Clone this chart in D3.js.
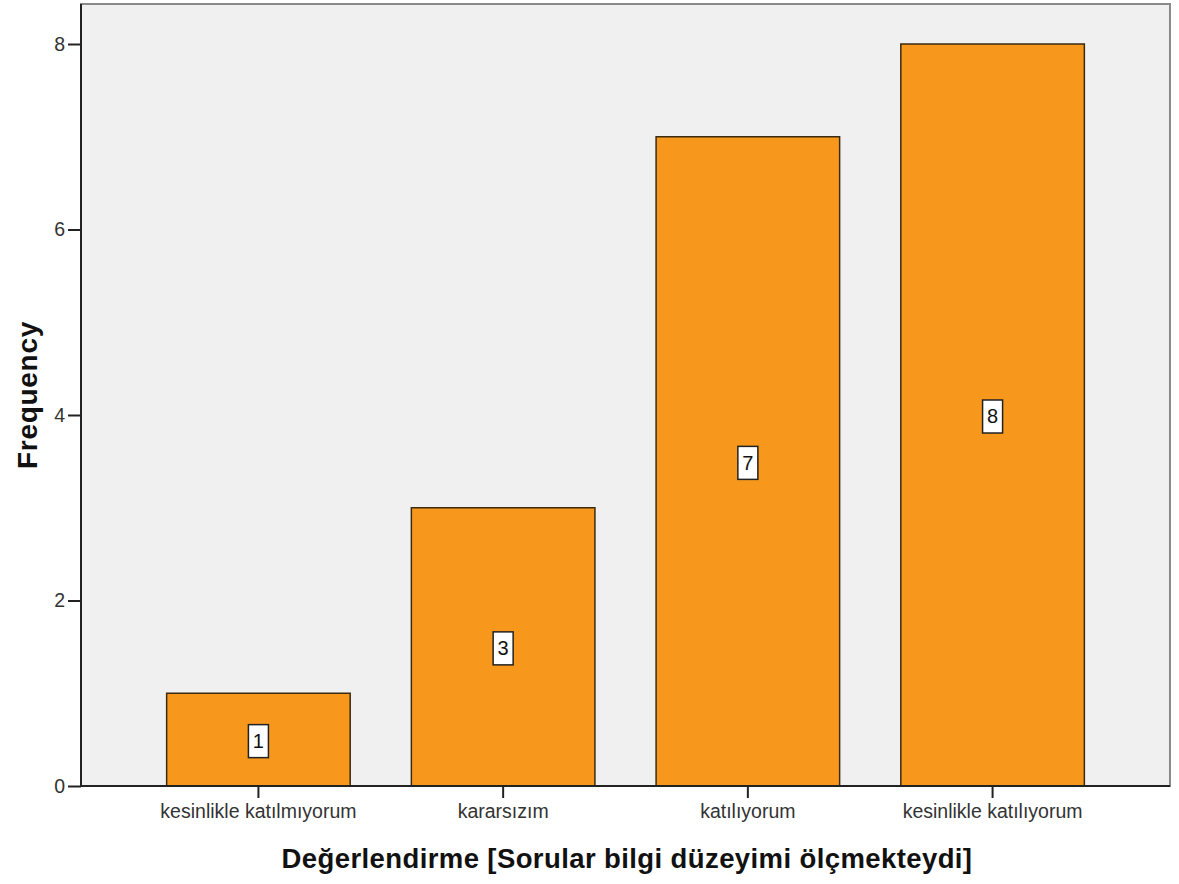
<!DOCTYPE html>
<html><head><meta charset="utf-8">
<script src="https://cdn.jsdelivr.net/npm/d3@7"></script>
<style>body{margin:0;background:#fff}svg{display:block}</style>
</head><body>
<script>
const categories = ["kesinlikle katılmıyorum","kararsızım","katılıyorum","kesinlikle katılıyorum"];
const frequencies = [1,3,7,8];
const yTicks = [0,2,4,6,8];
const xTitle = "Değerlendirme [Sorular bilgi düzeyimi ölçmekteydi]";
const yTitle = "Frequency";

const W=1179,H=884;
const L=81,T=4,R=1170,B=786;
const svg=d3.select("body").append("svg").attr("width",W).attr("height",H);
const font="Arial, 'Liberation Sans', sans-serif";

svg.append("rect").attr("x",L).attr("y",T).attr("width",R-L).attr("height",B-T)
  .attr("fill","#f0f0f0").attr("stroke","#8a8a8a").attr("stroke-width",2);

const x=d3.scaleBand().domain(categories).range([L,R]).paddingInner(0.25).paddingOuter(0.35);
const y=d3.scaleLinear().domain([0,8]).range([B,44]);

svg.selectAll("rect.bar").data(frequencies).enter().append("rect").attr("class","bar")
  .attr("x",(d,i)=>x(categories[i])).attr("width",x.bandwidth())
  .attr("y",d=>y(d)).attr("height",d=>y(0)-y(d))
  .attr("fill","#f7981d").attr("stroke","#3a2a10").attr("stroke-width",1.5);

// value labels
const lab=svg.selectAll("g.lab").data(frequencies).enter().append("g").attr("class","lab")
  .attr("transform",(d,i)=>`translate(${x(categories[i])+x.bandwidth()/2},${y(d/2)+1})`);
lab.append("rect").attr("x",-10).attr("y",-16).attr("width",20).attr("height",33)
  .attr("fill","#fff").attr("stroke","#222").attr("stroke-width",1.5);
lab.append("text").text(d=>d).attr("text-anchor","middle").attr("dy","0.36em")
  .attr("font-family",font).attr("font-size",20).attr("fill","#111");

// axes
const yAxis=svg.append("g").attr("transform",`translate(${L},0)`)
  .call(d3.axisLeft(y).tickValues(yTicks).tickSize(13).tickPadding(3));
const xAxis=svg.append("g").attr("transform",`translate(0,${B})`)
  .call(d3.axisBottom(x).tickSize(12).tickPadding(6));
[yAxis,xAxis].forEach(g=>{
  g.select(".domain").attr("stroke","#222").attr("stroke-width",2);
  g.selectAll(".tick line").attr("stroke","#222").attr("stroke-width",2);
  g.selectAll("text").attr("font-family",font).attr("font-size",19.5).attr("fill","#333");
});
yAxis.select(".domain").attr("d",`M0,${B}V${T}`);
xAxis.select(".domain").attr("d",`M${L},0H${R}`);

svg.append("text").text(xTitle).attr("x",627).attr("y",868).attr("text-anchor","middle")
  .attr("font-family",font).attr("font-weight","bold").attr("font-size",27.5).attr("letter-spacing",0.4).attr("fill","#111");
svg.append("text").text(yTitle).attr("transform",`translate(37,395) rotate(-90)`).attr("text-anchor","middle")
  .attr("font-family",font).attr("font-weight","bold").attr("font-size",28).attr("letter-spacing",0.7).attr("fill","#111");
</script>
</body></html>
